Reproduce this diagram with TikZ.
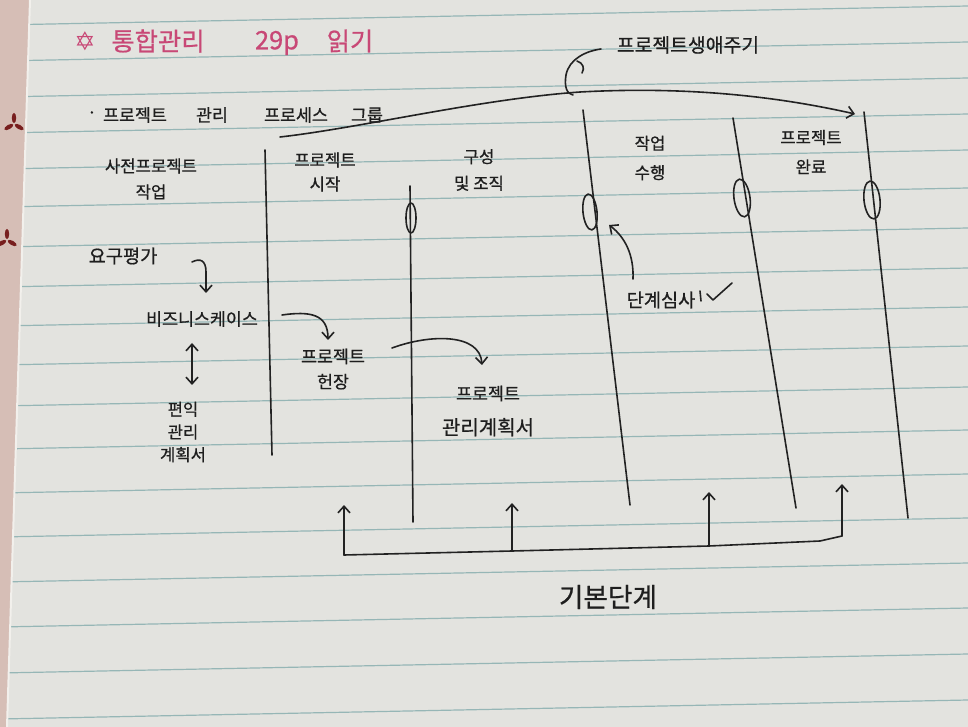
\documentclass[tikz,border=0pt]{standalone}
\usepackage{fontspec}
\newfontfamily\kr[FakeBold=0.7]{Noto Sans CJK KR}
\newfontfamily\symfont{DejaVu Sans}
\usetikzlibrary{arrows.meta}

\tikzset{every picture/.style={line width=0.75pt}}
\tikzset{
  paper/.style={fill={rgb, 255:red, 227; green, 227; blue, 223}},
  rule/.style={draw={rgb, 255:red, 150; green, 182; blue, 182}, line width=0.9pt},
  ink/.style={draw={rgb, 255:red, 34; green, 34; blue, 34}, line width=1.2pt, line cap=round, line join=round},
  handarrow/.style={-{Straight Barb[length=5pt,width=9pt]}},
  hand/.style={inner sep=0.75pt, align=center, text={rgb, 255:red, 30; green, 30; blue, 30}, font=\kr\fontsize{13}{19.5}\selectfont},
  pinkhand/.style={inner sep=0.75pt, text={rgb, 255:red, 200; green, 72; blue, 118}, font=\kr\fontsize{19}{22}\selectfont}
}

\begin{document}
\begin{tikzpicture}[x=0.75pt,y=0.75pt,yscale=-1,xscale=1]
        %Shape: Paper
        \fill [paper] (0,0) rectangle (968,727);
        \useasboundingbox (0,0) rectangle (968,727);
        %Shape: Ruled lines
        \foreach \y in {20,56,92,128,164,202,242,282,321,360,401,444,488,532,577,622,668,714}
          \draw [rule] (0,\y+5) -- (968,\y-14);
        %Shape: Margin
        \fill [color={rgb, 255:red, 214; green, 190; blue, 182 }] (0,0) -- (30,0) -- (7,727) -- (0,727) -- cycle;
        \draw [color={rgb, 255:red, 242; green, 240; blue, 236 }, line width=1.5pt] (30,0) -- (7,727);
        \foreach \cx/\cy in {14/124, 7/240}
          \foreach \a in {0,120,240}
            \fill [color={rgb, 255:red, 120; green, 30; blue, 30 }, rotate around={\a:(\cx,\cy)}] (\cx,\cy-6) ellipse (2.2 and 5);

        % Text Node: title
        \node (star) at (85,41) [pinkhand] {\symfont ✡};
        \node (ttl) at (158,41) [pinkhand] {통합관리};
        \node (page) at (277,43) [pinkhand] {29p};
        \node (read) at (350,41) [pinkhand] {읽기};

        % Text Node: life cycle
        \node (life) at (688,45) [hand, font=\kr\fontsize{14.5}{17}\selectfont] {프로젝트생애주기};
        %Curve: curl
        \coordinate (curltop) at (601,49);
        \draw [ink] (curltop) .. controls (586,51) and (569,59) .. (566,75) .. controls (564,87) and (567,94) .. (573,95);
        \draw [ink] (577,61) .. controls (583,63) and (585,68) .. (582,73);

        % Text Node: group
        \node (dot) at (92,115) [hand] {·};
        \node (grp1) at (135,115) [hand] {프로젝트};
        \node (grp2) at (212,115) [hand] {관리};
        \node (grp3) at (296,115) [hand] {프로세스};
        \node (grp4) at (367,115) [hand] {그룹};
        %Curve: over the phases
        \coordinate (lcstart) at (280,137);
        \coordinate (lcend) at (855,114);
        \draw [ink, handarrow] (lcstart) .. controls (360,128) and (480,99) .. (580,92) .. controls (690,86) and (780,97) .. (lcend);

        %Straight Lines: phase borders
        \draw [ink] (265,150) -- (272,455);
        \draw [ink] (410,186) -- (413,522);
        \draw [ink] (583,110) -- (630,505);
        \draw [ink] (733,118) -- (796,508);
        \draw [ink] (864,112) -- (908,518);
        %Shape: Ellipses
        \draw [ink] (411,218) ellipse (5 and 15);
        \draw [ink, rotate around={-6:(590,212)}] (590,212) ellipse (7 and 18);
        \draw [ink, rotate around={-8:(742,198)}] (742,198) ellipse (8 and 19);
        \draw [ink, rotate around={-6:(872,200)}] (872,200) ellipse (8 and 19);

        % Text Node: phases
        \node (pre) at (151,179) [hand, font=\kr\fontsize{12.5}{19.5}\selectfont] {사전프로젝트\\작업};
        \node (init) at (325,172) [hand, font=\kr\fontsize{12.5}{18}\selectfont] {프로젝트\\시작};
        \node (org) at (479,170) [hand, font=\kr\fontsize{12.5}{20}\selectfont] {구성\\및 조직};
        \node (exec) at (650,158) [hand, font=\kr\fontsize{12.5}{22}\selectfont] {작업\\수행};
        \node (close) at (811,152) [hand, font=\kr\fontsize{12.5}{22}\selectfont] {프로젝트\\완료};

        % Text Node: pre-project work
        \node (req) at (123,256) [hand, font=\kr\fontsize{14}{17}\selectfont] {요구평가};
        \node (biz) at (202,319) [hand] {비즈니스케이스};
        \node (ben) at (183,432) [hand, font=\kr\fontsize{12.5}{17}\selectfont] {편익\\관리\\계획서};
        %Curve: req to biz
        \coordinate (reqout) at (192,262);
        \coordinate (bizin) at (206,293);
        \draw [ink, handarrow] (reqout) .. controls (200,258) and (206,260) .. (206,272) -- (bizin);
        %Straight Lines: biz and benefit
        \coordinate (bizdown) at (192,343);
        \coordinate (benup) at (192,385);
        \draw [ink, {Straight Barb[length=5pt,width=9pt]}-{Straight Barb[length=5pt,width=9pt]}] (bizdown) -- (benup);

        % Text Node: charter and plan
        \node (chart) at (333,369) [hand, font=\kr\fontsize{13}{19}\selectfont] {프로젝트\\헌장};
        \node (plan) at (488,411) [hand, font=\kr\fontsize{13}{26}\selectfont] {프로젝트\\{\fontsize{15}{26}\selectfont 관리계획서}};
        %Curve: biz to charter
        \coordinate (bizout) at (282,315);
        \coordinate (chartin) at (328,340);
        \draw [ink, handarrow] (bizout) .. controls (310,311) and (328,314) .. (chartin);
        %Curve: charter to plan
        \coordinate (chartout) at (392,348);
        \coordinate (planin) at (482,365);
        \draw [ink, handarrow] (chartout) .. controls (430,334) and (480,333) .. (planin);

        % Text Node: phase gate
        \node (gate) at (661,300) [hand, font=\kr\fontsize{14}{17}\selectfont] {단계심사};
        \draw [ink] (700,291) -- (701,301);
        \draw [ink] (707,294) -- (713,300) -- (732,283);
        \coordinate (gateout) at (633,279);
        \coordinate (gatein) at (609,225);
        \draw [ink, handarrow] (gateout) .. controls (634,255) and (625,237) .. (gatein);

        %Straight Lines: base phases bracket
        \coordinate (b1) at (344,555);
        \coordinate (b2) at (512,551);
        \coordinate (b3) at (709,546);
        \coordinate (b4) at (842,536);
        \draw [ink] (b1) -- (b2) -- (b3) -- (820,541) -- (b4);
        \draw [ink, handarrow] (b1) -- (344,505);
        \draw [ink, handarrow] (b2) -- (512,503);
        \draw [ink, handarrow] (b3) -- (709,492);
        \draw [ink, handarrow] (b4) -- (842,484);
        % Text Node
        \node (base) at (608,597) [hand, font=\kr\fontsize{20}{24}\selectfont] {기본단계};

\end{tikzpicture}
\end{document}
